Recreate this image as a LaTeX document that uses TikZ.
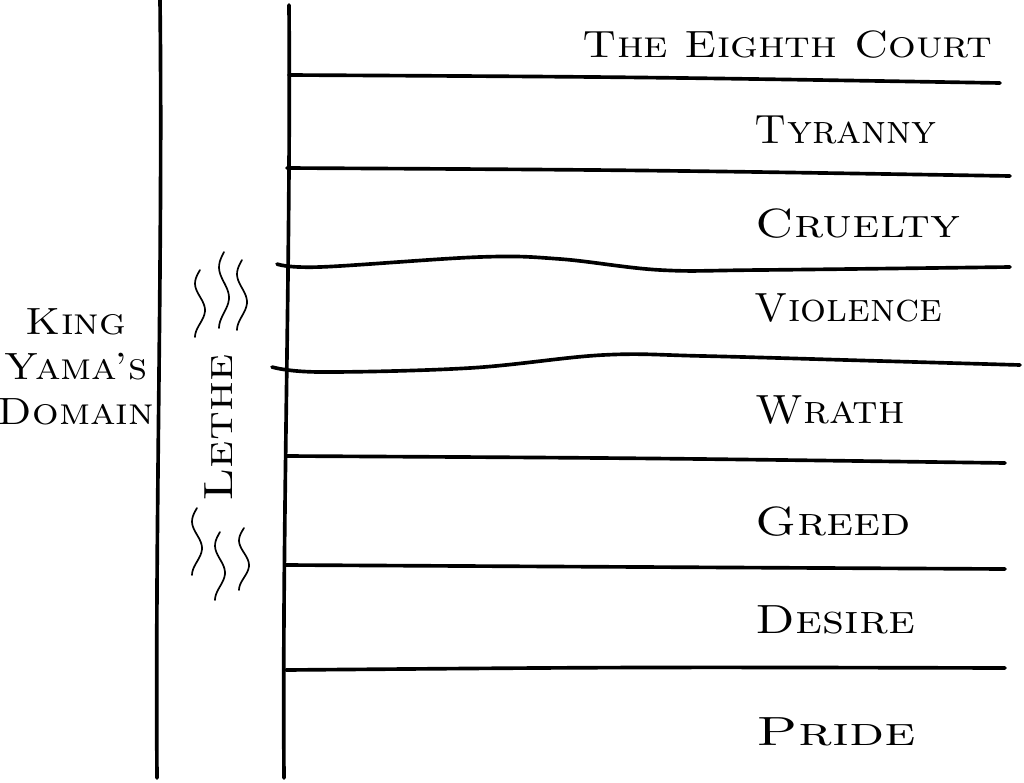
\documentclass[tikz,border=0pt]{standalone}
\usetikzlibrary{calc}
\begin{document}
\begin{tikzpicture}[x=0.25mm, y=-0.25mm, line cap=round]
  \tikzset{
    pen/.style={line width=2.6pt},
    ripple/.style={line width=1.2pt},
    sin/.style={anchor=west, font=\fontsize{29}{32}\selectfont\scshape},
  }
  \useasboundingbox (0,0) rectangle (1024,782);
  % 两岸
  \draw[pen] (160,0) .. controls (163,250) and (155,520) .. (157,778);
  \draw[pen] (289,5) .. controls (291,260) and (282,520) .. (284,778);
  % 分隔线
  \foreach \xa/\ya/\yc/\xb/\yb in {289/75/77/1000/83, 287/168/170/1010/176,
      286/456/458/1005/463, 286/565/567/1005/569, 286/670/667/1005/668}
    \draw[pen] (\xa,\ya) .. controls (640,\yc) .. (\xb,\yb);
  \draw[pen] plot[smooth, tension=0.6] coordinates {(277,264) (320,267) (480,257)
      (560,259) (660,270) (760,270) (1010,267)};
  \draw[pen] plot[smooth, tension=0.6] coordinates {(272,367) (320,372) (470,368)
      (603,355) (703,356) (880,361) (1020,365)};
  % 水纹
  \foreach \wx/\wa/\wb in {200/270/337, 224/252/328, 242/260/330,
      197/508/575, 220/532/600, 244/528/590}
    \draw[ripple] plot[variable=\t, domain=0:1, samples=25, smooth]
      ({\wx-5*sin(450*\t)}, {\wa+(\wb-\wa)*\t});
  % 河名
  \node[rotate=90, xscale=1.2, font=\fontsize{29}{30}\selectfont\scshape] (lethe) at (219,428) {Lethe};
  % 阎王之域
  \node[align=center, xscale=1.1, font=\fontsize{27}{32}\selectfont\scshape] (domain) at (76,367)
    {King\\Yama's\\Domain};
  % 八殿
  \node[sin, xscale=1.15, font=\fontsize{27}{30}\selectfont\scshape] (court) at (577,45) {The Eighth Court};
  \node[sin] (tyranny) at (750,130) {Tyranny};
  \node[sin, xscale=1.2] (cruelty) at (750,224) {Cruelty};
  \node[sin] (violence) at (750,308) {Violence};
  \node[sin, xscale=1.06] (wrath) at (750,410) {Wrath};
  \node[sin, xscale=1.19] (greed) at (750,522) {Greed};
  \node[sin, xscale=1.18] (desire) at (750,620) {Desire};
  \node[sin, xscale=1.38] (pride) at (750,732) {Pride};
\end{tikzpicture}
\end{document}
